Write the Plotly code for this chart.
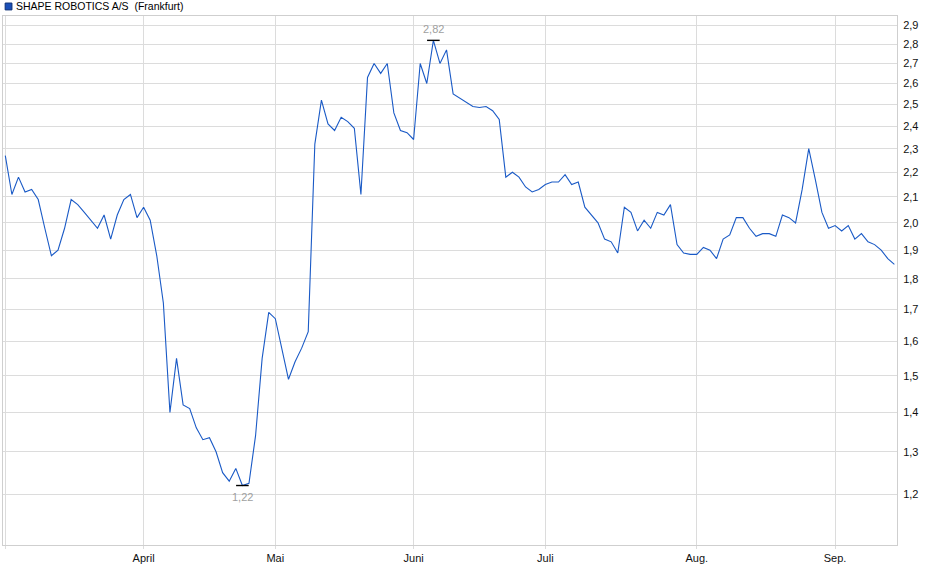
from __future__ import annotations

import math

import plotly.graph_objects as go


TITLE = "SHAPE ROBOTICS A/S  (Frankfurt)"
LINE_COLOR = "#1a5ac6"
GRID_COLOR = "#dcdcdc"

# daily closes, one per trading day
prices = [
    2.27, 2.11, 2.18, 2.12, 2.13, 2.09, 1.98, 1.88, 1.90, 1.98,
    2.09, 2.07, 2.04, 2.01, 1.98, 2.03, 1.94, 2.03, 2.09, 2.11,
    2.02, 2.06, 2.01, 1.88, 1.72, 1.40, 1.55, 1.42, 1.41, 1.36,
    1.33, 1.335, 1.30, 1.25, 1.23, 1.26, 1.22, 1.225, 1.34, 1.55,
    1.69, 1.67, 1.58, 1.49, 1.54, 1.58, 1.63, 2.32, 2.52, 2.41,
    2.38, 2.44, 2.42, 2.39, 2.11, 2.63, 2.70, 2.65, 2.70, 2.46,
    2.38, 2.37, 2.34, 2.70, 2.60, 2.82, 2.70, 2.77, 2.55, 2.53,
    2.51, 2.49, 2.485, 2.49, 2.47, 2.43, 2.18, 2.20, 2.18, 2.14,
    2.12, 2.13, 2.15, 2.16, 2.16, 2.19, 2.15, 2.16, 2.06, 2.03,
    2.00, 1.94, 1.93, 1.89, 2.06, 2.04, 1.97, 2.01, 1.98, 2.04,
    2.03, 2.07, 1.92, 1.89, 1.885, 1.885, 1.91, 1.90, 1.87, 1.94,
    1.955, 2.02, 2.02, 1.98, 1.95, 1.96, 1.96, 1.95, 2.03, 2.02,
    2.00, 2.13, 2.30, 2.17, 2.04, 1.98, 1.99, 1.97, 1.99, 1.94,
    1.96, 1.93, 1.92, 1.90, 1.87, 1.85,
]

# first trading day of each month (index into prices)
month_starts = [0, 21, 41, 62, 82, 105, 126]
month_labels = ["", "April", "Mai", "Juni", "Juli", "Aug.", "Sep."]

y_ticks = [1.2, 1.3, 1.4, 1.5, 1.6, 1.7, 1.8, 1.9, 2.0, 2.1, 2.2, 2.3, 2.4, 2.5, 2.6, 2.7, 2.8, 2.9]
y_tick_labels = [f"{v:.1f}".replace(".", ",") for v in y_ticks]

days = list(range(len(prices)))
i_max = max(days, key=lambda i: prices[i])
i_min = min(days, key=lambda i: prices[i])

fig = go.Figure()
fig.add_trace(
    go.Scatter(
        x=days,
        y=prices,
        mode="lines",
        line=dict(color=LINE_COLOR, width=1.1),
        showlegend=False,
        hoverinfo="skip",
    )
)
fig.add_trace(
    go.Scatter(
        x=[i_max, i_min],
        y=[prices[i_max], prices[i_min]],
        mode="markers",
        marker=dict(symbol="line-ew", size=9, line=dict(color="#000000", width=1.4)),
        showlegend=False,
        hoverinfo="skip",
    )
)

for i, anchor, shift in [(i_max, "bottom", 3), (i_min, "top", -3)]:
    fig.add_annotation(
        x=i,
        y=math.log10(prices[i]),
        text=f"{prices[i]:.2f}".replace(".", ","),
        showarrow=False,
        yanchor=anchor,
        yshift=shift,
        font=dict(family="Liberation Sans, Arial", size=11, color="#a0a0a0"),
    )

# legend box + title
fig.add_shape(
    type="rect",
    xref="paper",
    yref="paper",
    x0=0.0024,
    x1=0.0100,
    y0=1.0115,
    y1=1.0245,
    fillcolor="#1a4fb8",
    line=dict(color="#0d2f75", width=1),
)
fig.add_annotation(
    xref="paper",
    yref="paper",
    x=0.0120,
    y=1.0190,
    xanchor="left",
    yanchor="middle",
    text=TITLE,
    showarrow=False,
    font=dict(family="Liberation Sans, Arial", size=10.5, color="#000000"),
)

axis_font = dict(family="Liberation Sans, Arial", size=11, color="#111111")

fig.update_xaxes(
    range=[-0.35, 135.4],
    tickmode="array",
    tickvals=month_starts,
    ticktext=month_labels,
    showgrid=True,
    gridcolor=GRID_COLOR,
    gridwidth=1,
    showline=True,
    linecolor="#cfcfcf",
    linewidth=1,
    mirror=True,
    ticks="outside",
    ticklen=3,
    tickcolor=GRID_COLOR,
    tickfont=axis_font,
    zeroline=False,
)
fig.update_yaxes(
    type="log",
    side="right",
    range=[0.03774, 0.47017],
    tickmode="array",
    tickvals=y_ticks,
    ticktext=y_tick_labels,
    showgrid=True,
    gridcolor=GRID_COLOR,
    gridwidth=1,
    showline=True,
    linecolor="#cfcfcf",
    linewidth=1,
    mirror=True,
    ticks="outside",
    ticklen=3,
    tickcolor="rgba(0,0,0,0)",
    tickfont=axis_font,
    zeroline=False,
)

fig.update_layout(
    width=940,
    height=579,
    margin=dict(l=3, r=43, t=16, b=34),
    paper_bgcolor="#ffffff",
    plot_bgcolor="#ffffff",
    font=dict(family="Liberation Sans, Arial", size=11, color="#111111"),
)

# the page body has a default 8px margin; drop it so the chart sits at 0,0
fig.write_html(
    "out.html",
    config={"displayModeBar": False},
    post_script="document.body.style.margin='0px';",
)
